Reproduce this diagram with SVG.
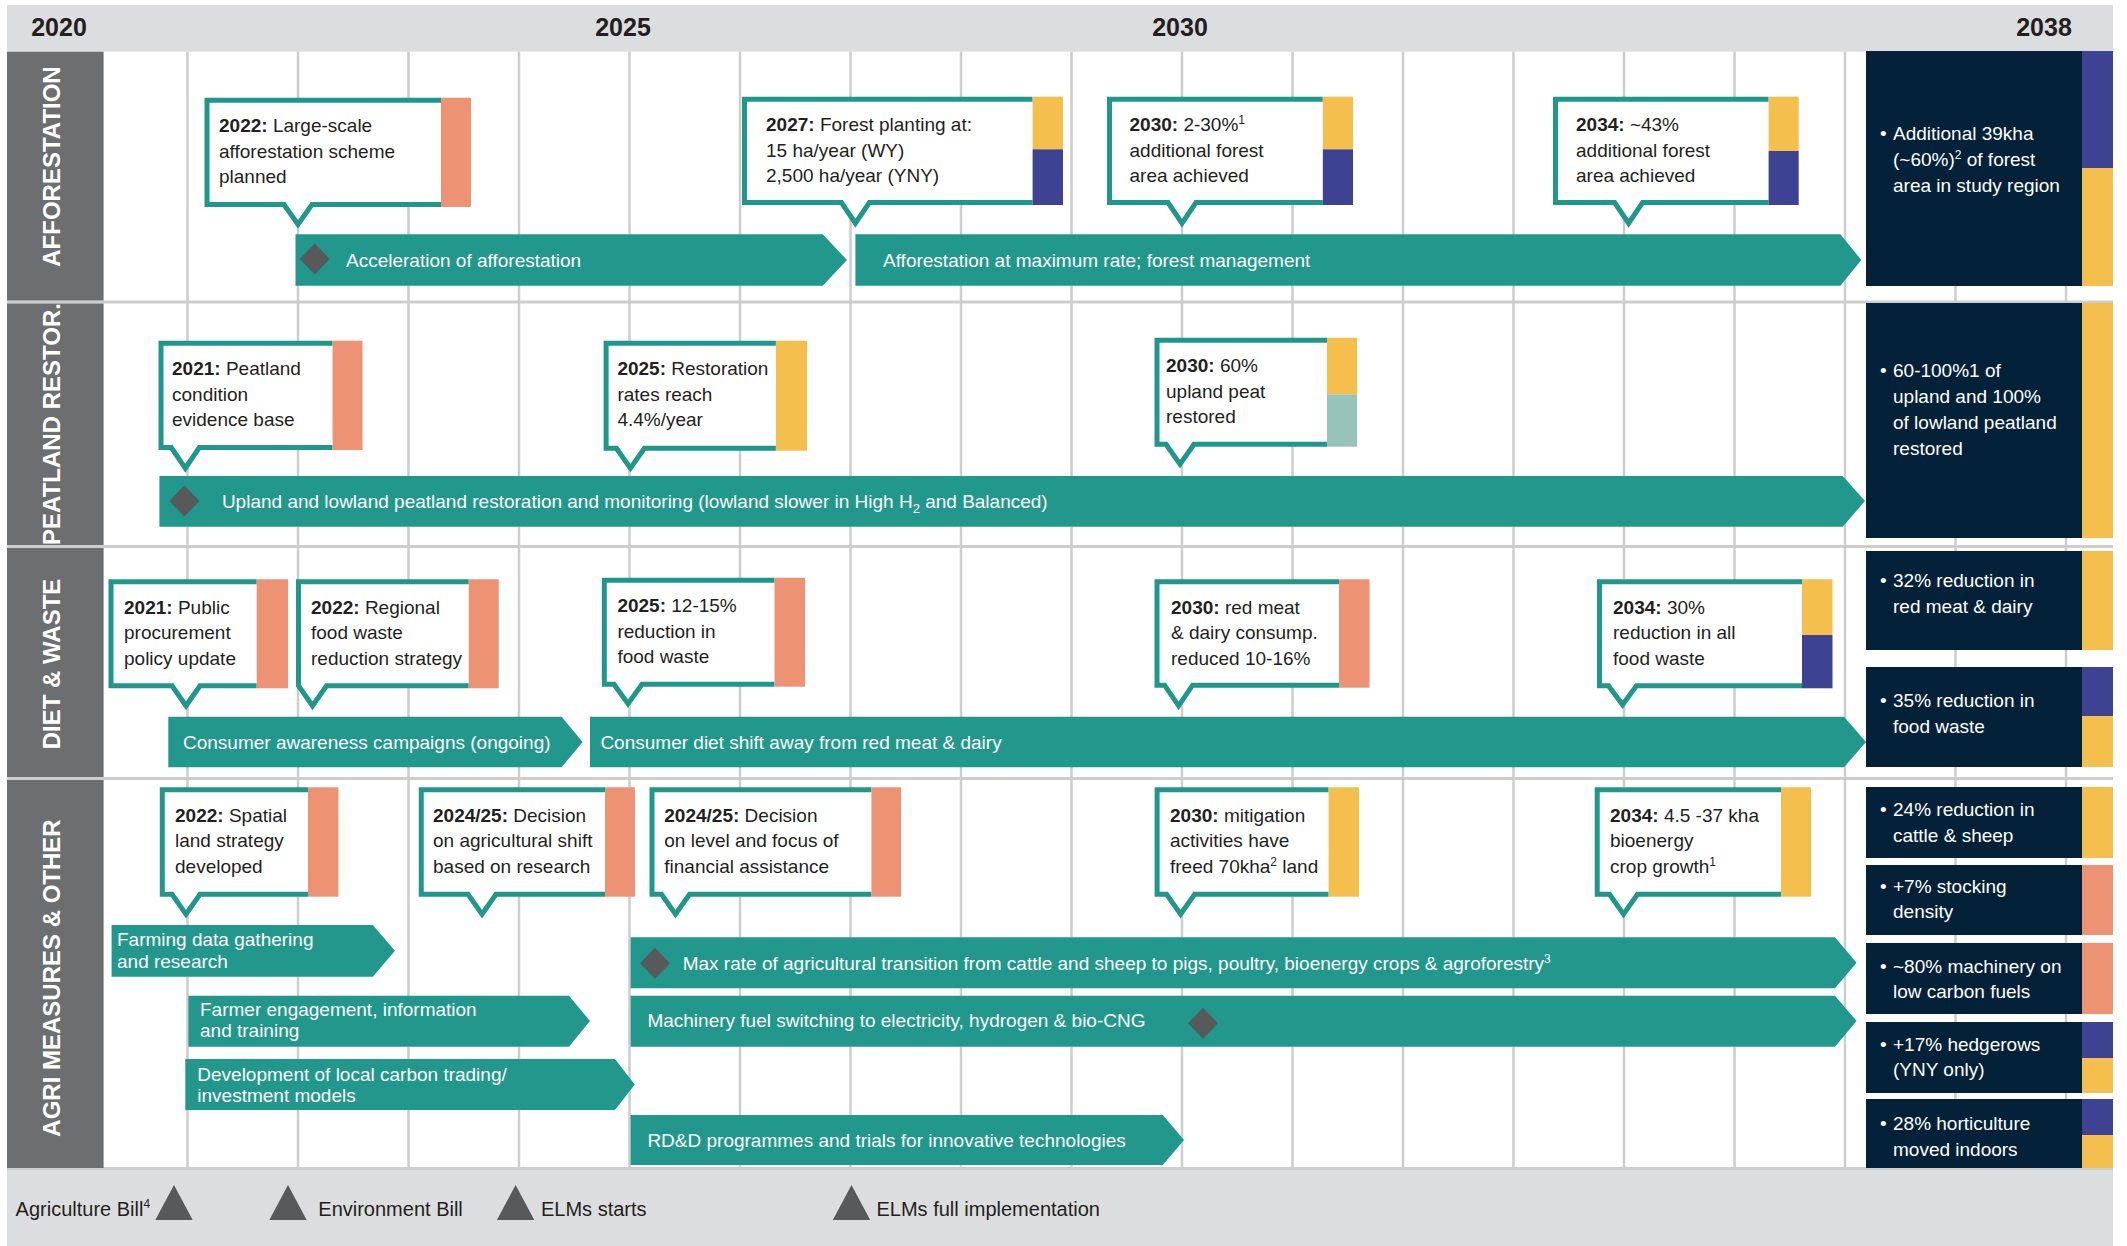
<svg xmlns="http://www.w3.org/2000/svg" width="2127" height="1246" viewBox="0 0 2127 1246">
<style>
text{font-family:"Liberation Sans",Arial,sans-serif}
.yr{font-size:25px;font-weight:700;fill:#231f20}
.side{font-size:24px;font-weight:700;fill:#fff}
.co{font-size:19px;fill:#231f20}
.b{font-weight:700}
.bl{font-size:19px;fill:#fff}
.rs{font-size:19px;fill:#fff}
.ft{font-size:20px;fill:#231f20}
.cb{fill:#fff;stroke:#1f978a;stroke-width:5;stroke-linejoin:miter}
.bar{fill:#21988b}
.dia{fill:#58595b}
.grid{stroke:#cdcdcd;stroke-width:2.5}
.sep{stroke:#cdcdcd;stroke-width:3}
.res{fill:#03223a}
.sal{fill:#ee9274}.yel{fill:#f5bf4e}.pur{fill:#3d4392}.lt{fill:#97c3b9}
</style>
<defs>
<path id="dm" class="dia" d="M-15,0 L0,-15.5 L15,0 L0,15.5Z"/>
<path id="tri" class="dia" d="M-18.7,17.5 L0,-17.5 L18.7,17.5Z"/>
</defs>
<rect width="2127" height="1246" fill="#fff"/>
<!-- header -->
<g id="header">
<rect x="7" y="5" width="2106" height="46.7" fill="#dcdddf"/>
<text class="yr" x="59" y="36" text-anchor="middle">2020</text>
<text class="yr" x="623" y="36" text-anchor="middle">2025</text>
<text class="yr" x="1180" y="36" text-anchor="middle">2030</text>
<text class="yr" x="2044" y="36" text-anchor="middle">2038</text>
</g>
<!-- grid -->
<g id="grid">
<line class="grid" x1="187.5" y1="51.7" x2="187.5" y2="1168"/>
<line class="grid" x1="298" y1="51.7" x2="298" y2="1168"/>
<line class="grid" x1="408.5" y1="51.7" x2="408.5" y2="1168"/>
<line class="grid" x1="519" y1="51.7" x2="519" y2="1168"/>
<line class="grid" x1="629.5" y1="51.7" x2="629.5" y2="1168"/>
<line class="grid" x1="740" y1="51.7" x2="740" y2="1168"/>
<line class="grid" x1="850.5" y1="51.7" x2="850.5" y2="1168"/>
<line class="grid" x1="961" y1="51.7" x2="961" y2="1168"/>
<line class="grid" x1="1071.5" y1="51.7" x2="1071.5" y2="1168"/>
<line class="grid" x1="1182" y1="51.7" x2="1182" y2="1168"/>
<line class="grid" x1="1292.5" y1="51.7" x2="1292.5" y2="1168"/>
<line class="grid" x1="1403" y1="51.7" x2="1403" y2="1168"/>
<line class="grid" x1="1513.5" y1="51.7" x2="1513.5" y2="1168"/>
<line class="grid" x1="1624" y1="51.7" x2="1624" y2="1168"/>
<line class="grid" x1="1734.5" y1="51.7" x2="1734.5" y2="1168"/>
<line class="grid" x1="1845" y1="51.7" x2="1845" y2="1168"/>
<line class="grid" x1="1955.5" y1="51.7" x2="1955.5" y2="1168"/>
<line class="grid" x1="2066" y1="51.7" x2="2066" y2="1168"/>
<line class="sep" x1="7" y1="302" x2="2113" y2="302"/>
<line class="sep" x1="7" y1="546.5" x2="2113" y2="546.5"/>
<line class="sep" x1="7" y1="778.5" x2="2113" y2="778.5"/>
</g>
<!-- footer -->
<g id="footer">
<rect x="7" y="1168" width="2106" height="78" fill="#dcdddf"/>
<line class="sep" x1="7" y1="1168.5" x2="2113" y2="1168.5"/>
</g>
<!-- sidebar -->
<g id="sidebar">
<rect x="7" y="51.7" width="96.6" height="248.8" fill="#6d6e70"/>
<rect x="7" y="303.5" width="96.6" height="241.5" fill="#6d6e70"/>
<rect x="7" y="548" width="96.6" height="229" fill="#6d6e70"/>
<rect x="7" y="780" width="96.6" height="388" fill="#6d6e70"/>
<text class="side" x="60" y="166.5" text-anchor="middle" transform="rotate(-90 60 166.5)">AFFORESTATION</text>
<text class="side" x="60" y="424" text-anchor="middle" transform="rotate(-90 60 424)">PEATLAND RESTOR.</text>
<text class="side" x="60" y="664" text-anchor="middle" transform="rotate(-90 60 664)">DIET &amp; WASTE</text>
<text class="side" x="60" y="978" text-anchor="middle" transform="rotate(-90 60 978)">AGRI MEASURES &amp; OTHER</text>
</g>
<!-- bars -->
<g id="bar-accel"><polygon class="bar" points="295.5,234.3 822.8,234.3 847,260 822.8,285.7 295.5,285.7"/><use href="#dm" x="314.7" y="259"/><text class="bl" x="346" y="266.7">Acceleration of afforestation</text></g>
<g id="bar-maxrate"><polygon class="bar" points="855.4,234.3 1840.4,234.3 1861.3,260 1840.4,285.7 855.4,285.7"/><text class="bl" x="883" y="266.7">Afforestation at maximum rate; forest management</text></g>
<g id="bar-peat"><polygon class="bar" points="159.4,476 1842.7,476 1865,501 1842.7,526.7 159.4,526.7"/><use href="#dm" x="184.4" y="501"/><text class="bl" x="221.9" y="507.5">Upland and lowland peatland restoration and monitoring (lowland slower in High H<tspan font-size="13" dy="5">2</tspan><tspan dy="-5"> and Balanced)</tspan></text></g>
<g id="bar-awareness"><polygon class="bar" points="168.3,716.7 561.6,716.7 582.6,742 561.6,767.3 168.3,767.3"/><text class="bl" x="183" y="749">Consumer awareness campaigns (ongoing)</text></g>
<g id="bar-diet"><polygon class="bar" points="590,716.7 1844,716.7 1866,742 1844,767.3 590,767.3"/><text class="bl" x="600.4" y="749">Consumer diet shift away from red meat &amp; dairy</text></g>
<g id="bar-farming"><polygon class="bar" points="111.6,925 372.8,925 395,950.8 372.8,976.7 111.6,976.7"/><text class="bl" x="117" y="946">Farming data gathering</text><text class="bl" x="117" y="968">and research</text></g>
<g id="bar-engagement"><polygon class="bar" points="188.4,995.7 569,995.7 590,1021 569,1046.7 188.4,1046.7"/><text class="bl" x="200" y="1016">Farmer engagement, information</text><text class="bl" x="200" y="1037">and training</text></g>
<g id="bar-carbon"><polygon class="bar" points="185.3,1059 615,1059 634.8,1084.5 615,1110 185.3,1110"/><text class="bl" x="197.3" y="1081">Development of local carbon trading/</text><text class="bl" x="197.3" y="1102">investment models</text></g>
<g id="bar-transition"><polygon class="bar" points="630.6,937.3 1835,937.3 1856.6,962.8 1835,988.3 630.6,988.3"/><use href="#dm" x="655" y="963.3"/><text class="bl" x="682.7" y="970">Max rate of agricultural transition from cattle and sheep to pigs, poultry, bioenergy crops &amp; agroforestry<tspan font-size="12" dy="-7">3</tspan></text></g>
<g id="bar-machinery"><polygon class="bar" points="630.6,995.7 1835,995.7 1856.6,1021 1835,1046.7 630.6,1046.7"/><use href="#dm" x="1203" y="1023.3"/><text class="bl" x="647.4" y="1027">Machinery fuel switching to electricity, hydrogen &amp; bio-CNG</text></g>
<g id="bar-rdd"><polygon class="bar" points="630.6,1115 1162.8,1115 1184,1140 1162.8,1165 630.6,1165"/><text class="bl" x="647.4" y="1146.8">RD&amp;D programmes and trials for innovative technologies</text></g>
<!-- callouts -->
<g id="c-a2022"><path class="cb" d="M441,100.2 H207 V204.5 H284 L298,224.5 L312,204.5 H441"/><rect class="sal" x="441" y="97.7" width="30" height="109.3"/>
<text class="co" x="219" y="132.2"><tspan class="b">2022:</tspan> Large-scale</text><text class="co" x="219" y="157.7">afforestation scheme</text><text class="co" x="219" y="183.2">planned</text></g>
<g id="c-a2027"><path class="cb" d="M1032.6,99.2 H744.5 V202.5 H841.4 L855.4,223.2 L869.4,202.5 H1032.6"/><rect class="yel" x="1032.6" y="96.7" width="30.4" height="52.6"/><rect class="pur" x="1032.6" y="149.3" width="30.4" height="55.7"/>
<text class="co" x="766" y="131.2"><tspan class="b">2027:</tspan> Forest planting at:</text><text class="co" x="766" y="156.7">15 ha/year (WY)</text><text class="co" x="766" y="182.2">2,500 ha/year (YNY)</text></g>
<g id="c-a2030"><path class="cb" d="M1322.8,99.2 H1109.5 V202.5 H1168 L1182,223.2 L1196,202.5 H1322.8"/><rect class="yel" x="1322.8" y="96.7" width="30.2" height="52.6"/><rect class="pur" x="1322.8" y="149.3" width="30.2" height="55.7"/>
<text class="co" x="1129.5" y="131.2"><tspan class="b">2030:</tspan> 2-30%<tspan font-size="12" dy="-7">1</tspan></text><text class="co" x="1129.5" y="156.7">additional forest</text><text class="co" x="1129.5" y="182.2">area achieved</text></g>
<g id="c-a2034"><path class="cb" d="M1768.6,99.2 H1555.5 V202.5 H1614.6 L1628.6,223.2 L1642.6,202.5 H1768.6"/><rect class="yel" x="1768.6" y="96.7" width="30.1" height="54.3"/><rect class="pur" x="1768.6" y="151" width="30.1" height="54"/>
<text class="co" x="1576" y="131.2"><tspan class="b">2034:</tspan> ~43%</text><text class="co" x="1576" y="156.7">additional forest</text><text class="co" x="1576" y="182.2">area achieved</text></g>
<g id="c-p2021"><path class="cb" d="M332.6,343.2 H161 V447.5 H171.3 L185.3,468.2 L199.3,447.5 H332.6"/><rect class="sal" x="332.6" y="340.7" width="29.9" height="109.3"/>
<text class="co" x="172" y="375.2"><tspan class="b">2021:</tspan> Peatland</text><text class="co" x="172" y="400.7">condition</text><text class="co" x="172" y="426.2">evidence base</text></g>
<g id="c-p2025"><path class="cb" d="M775.9,343.2 H606.1 V448.2 H616.4 L630.4,468.2 L644.4,448.2 H775.9"/><rect class="yel" x="775.9" y="340.7" width="31.1" height="110"/>
<text class="co" x="617.4" y="375.2"><tspan class="b">2025:</tspan> Restoration</text><text class="co" x="617.4" y="400.7">rates reach</text><text class="co" x="617.4" y="426.2">4.4%/year</text></g>
<g id="c-p2030"><path class="cb" d="M1327,340.2 H1157 V444.2 H1166 L1180,464.2 L1194,444.2 H1327"/><rect class="yel" x="1327" y="337.7" width="30" height="56.6"/><rect class="lt" x="1327" y="394.3" width="30" height="52.4"/>
<text class="co" x="1166" y="372.2"><tspan class="b">2030:</tspan> 60%</text><text class="co" x="1166" y="397.7">upland peat</text><text class="co" x="1166" y="423.2">restored</text></g>
<g id="c-d2021"><path class="cb" d="M256.7,581.8 H111 V685.8 H172 L186,705.8 L200,685.8 H256.7"/><rect class="sal" x="256.7" y="579.3" width="31.3" height="109"/>
<text class="co" x="124" y="613.8"><tspan class="b">2021:</tspan> Public</text><text class="co" x="124" y="639.3">procurement</text><text class="co" x="124" y="664.8">policy update</text></g>
<g id="c-d2022"><path class="cb" d="M468.75,581.8 H298.5 V685.8 L312.5,705.8 L326.5,685.8 H468.75"/><rect class="sal" x="468.75" y="579.3" width="30" height="109"/>
<text class="co" x="311" y="613.8"><tspan class="b">2022:</tspan> Regional</text><text class="co" x="311" y="639.3">food waste</text><text class="co" x="311" y="664.8">reduction strategy</text></g>
<g id="c-d2025"><path class="cb" d="M774.5,580.2 H604.3 V684.2 H614 L628,703.8 L642,684.2 H774.5"/><rect class="sal" x="774.5" y="577.7" width="30.5" height="109"/>
<text class="co" x="617.4" y="612.2"><tspan class="b">2025:</tspan> 12-15%</text><text class="co" x="617.4" y="637.7">reduction in</text><text class="co" x="617.4" y="663.2">food waste</text></g>
<g id="c-d2030"><path class="cb" d="M1339,581.8 H1157 V685.2 H1164.6 L1178.6,705.8 L1192.6,685.2 H1339"/><rect class="sal" x="1339" y="579.3" width="30.6" height="108.4"/>
<text class="co" x="1171" y="613.8"><tspan class="b">2030:</tspan> red meat</text><text class="co" x="1171" y="639.3">&amp; dairy consump.</text><text class="co" x="1171" y="664.8">reduced 10-16%</text></g>
<g id="c-d2034"><path class="cb" d="M1802,581.8 H1599.5 V685.8 H1608.5 L1622.5,704.8 L1636.5,685.8 H1802"/><rect class="yel" x="1802" y="579.3" width="30.5" height="55.7"/><rect class="pur" x="1802" y="635" width="30.5" height="53.3"/>
<text class="co" x="1613" y="613.8"><tspan class="b">2034:</tspan> 30%</text><text class="co" x="1613" y="639.3">reduction in all</text><text class="co" x="1613" y="664.8">food waste</text></g>
<g id="c-g2022"><path class="cb" d="M308,789.8 H162.3 V894.2 H172 L186,914.2 L200,894.2 H308"/><rect class="sal" x="308" y="787.3" width="30.4" height="109.4"/>
<text class="co" x="175" y="821.8"><tspan class="b">2022:</tspan> Spatial</text><text class="co" x="175" y="847.3">land strategy</text><text class="co" x="175" y="872.8">developed</text></g>
<g id="c-g2024a"><path class="cb" d="M605,789.8 H421.25 V894.2 H468 L482,914.2 L496,894.2 H605"/><rect class="sal" x="605" y="787.3" width="30" height="109.4"/>
<text class="co" x="433" y="821.8"><tspan class="b">2024/25:</tspan> Decision</text><text class="co" x="433" y="847.3">on agricultural shift</text><text class="co" x="433" y="872.8">based on research</text></g>
<g id="c-g2024b"><path class="cb" d="M871.4,789.8 H652 V894.2 H661.5 L675.5,914.2 L689.5,894.2 H871.4"/><rect class="sal" x="871.4" y="787.3" width="29.6" height="109.4"/>
<text class="co" x="664.3" y="821.8"><tspan class="b">2024/25:</tspan> Decision</text><text class="co" x="664.3" y="847.3">on level and focus of</text><text class="co" x="664.3" y="872.8">financial assistance</text></g>
<g id="c-g2030"><path class="cb" d="M1328.6,789.8 H1157.1 V894.2 H1166.6 L1180.6,914.2 L1194.6,894.2 H1328.6"/><rect class="yel" x="1328.6" y="787.3" width="30.4" height="109.4"/>
<text class="co" x="1170" y="821.8"><tspan class="b">2030:</tspan> mitigation</text><text class="co" x="1170" y="847.3">activities have</text><text class="co" x="1170" y="872.8">freed 70kha<tspan font-size="12" dy="-7">2</tspan><tspan dy="7"> land</tspan></text></g>
<g id="c-g2034"><path class="cb" d="M1781,789.8 H1597.2 V894.2 H1609.5 L1623.5,914.2 L1637.5,894.2 H1781"/><rect class="yel" x="1781" y="787.3" width="30" height="109.4"/>
<text class="co" x="1610" y="821.8"><tspan class="b">2034:</tspan> 4.5 -37 kha</text><text class="co" x="1610" y="847.3">bioenergy</text><text class="co" x="1610" y="872.8">crop growth<tspan font-size="12" dy="-7">1</tspan></text></g>
<!-- results -->
<g id="r-forest"><rect class="res" x="1866" y="51" width="216" height="235"/><rect class="pur" x="2082" y="51" width="31" height="117"/><rect class="yel" x="2082" y="168" width="31" height="118"/>
<text class="rs" x="1880" y="140">•</text><text class="rs" x="1893" y="140">Additional 39kha</text><text class="rs" x="1893" y="166">(~60%)<tspan font-size="12" dy="-7">2</tspan><tspan dy="7"> of forest</tspan></text><text class="rs" x="1893" y="192">area in study region</text></g>
<g id="r-peat"><rect class="res" x="1866" y="303" width="216" height="235"/><rect class="yel" x="2082" y="303" width="31" height="235"/>
<text class="rs" x="1880" y="377.3">•</text><text class="rs" x="1893" y="377.3">60-100%1 of</text><text class="rs" x="1893" y="403.3">upland and 100%</text><text class="rs" x="1893" y="429.3">of lowland peatland</text><text class="rs" x="1893" y="454.5">restored</text></g>
<g id="r-meat"><rect class="res" x="1866" y="551" width="216" height="99"/><rect class="yel" x="2082" y="551" width="31" height="99"/>
<text class="rs" x="1880" y="586.7">•</text><text class="rs" x="1893" y="586.7">32% reduction in</text><text class="rs" x="1893" y="613.3">red meat &amp; dairy</text></g>
<g id="r-waste"><rect class="res" x="1866" y="667" width="216" height="100"/><rect class="pur" x="2082" y="667" width="31" height="49"/><rect class="yel" x="2082" y="716" width="31" height="51"/>
<text class="rs" x="1880" y="707.3">•</text><text class="rs" x="1893" y="707.3">35% reduction in</text><text class="rs" x="1893" y="732.7">food waste</text></g>
<g id="r-cattle"><rect class="res" x="1866" y="787" width="216" height="71"/><rect class="yel" x="2082" y="787" width="31" height="71"/>
<text class="rs" x="1880" y="816">•</text><text class="rs" x="1893" y="816">24% reduction in</text><text class="rs" x="1893" y="841.7">cattle &amp; sheep</text></g>
<g id="r-stocking"><rect class="res" x="1866" y="865" width="216" height="70"/><rect class="sal" x="2082" y="865" width="31" height="70"/>
<text class="rs" x="1880" y="893.3">•</text><text class="rs" x="1893" y="893.3">+7% stocking</text><text class="rs" x="1893" y="918.3">density</text></g>
<g id="r-machinery"><rect class="res" x="1866" y="943" width="216" height="71"/><rect class="sal" x="2082" y="943" width="31" height="71"/>
<text class="rs" x="1880" y="972.7">•</text><text class="rs" x="1893" y="972.7">~80% machinery on</text><text class="rs" x="1893" y="998.3">low carbon fuels</text></g>
<g id="r-hedgerows"><rect class="res" x="1866" y="1022" width="216" height="71"/><rect class="pur" x="2082" y="1022" width="31" height="36"/><rect class="yel" x="2082" y="1058" width="31" height="35"/>
<text class="rs" x="1880" y="1050.7">•</text><text class="rs" x="1893" y="1050.7">+17% hedgerows</text><text class="rs" x="1893" y="1076">(YNY only)</text></g>
<g id="r-horti"><rect class="res" x="1866" y="1099" width="216" height="69"/><rect class="pur" x="2082" y="1099" width="31" height="36"/><rect class="yel" x="2082" y="1135" width="31" height="33"/>
<text class="rs" x="1880" y="1130">•</text><text class="rs" x="1893" y="1130">28% horticulture</text><text class="rs" x="1893" y="1155.7">moved indoors</text></g>
<!-- footer markers -->
<g id="m-agri"><text class="ft" x="15.6" y="1216">Agriculture Bill<tspan font-size="12" dy="-8">4</tspan></text><use href="#tri" x="174" y="1202.5"/></g>
<g id="m-env"><use href="#tri" x="288" y="1202.5"/><text class="ft" x="318.3" y="1216">Environment Bill</text></g>
<g id="m-elms"><use href="#tri" x="515.6" y="1202.5"/><text class="ft" x="541" y="1216">ELMs starts</text></g>
<g id="m-elmsfull"><use href="#tri" x="851.5" y="1202.5"/><text class="ft" x="876.5" y="1216">ELMs full implementation</text></g>
</svg>
